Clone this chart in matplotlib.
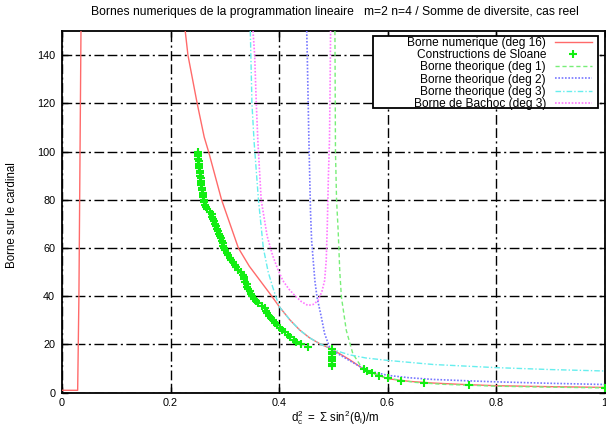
import matplotlib
matplotlib.use("Agg")
import matplotlib.pyplot as plt
from matplotlib.patches import Rectangle

plt.rcParams['font.family'] = ['Liberation Sans', 'DejaVu Sans']
plt.rcParams['mathtext.fontset'] = 'custom'
plt.rcParams['mathtext.rm'] = 'Liberation Sans'
plt.rcParams['mathtext.it'] = 'Liberation Sans'
plt.rcParams['lines.scale_dashes'] = False

# ---- data ----
red_x = [0.0, 0.0287, 0.031, 0.0348, None,
         0.227, 0.232, 0.249, 0.262, 0.270, 0.294, 0.325, 0.345, 0.365, 0.385,
         0.401, 0.420, 0.438, 0.456, 0.475, 0.4995, 0.530, 0.555, 0.600, 0.640,
         0.684, 0.740, 0.800, 0.900, 1.000]
red_y = [1.0, 1.0, 40.0, 150.0, None,
         150, 140, 120, 106, 100, 80, 60, 52.5, 46.5, 40.5,
         35.5, 30.2, 26.0, 22.8, 20.3, 17.8, 13.7, 9.9, 5.8, 4.7,
         4.0, 3.4, 2.9, 2.5, 2.2]

sloane_n = [2, 3, 4, 5, 6, 7, 8, 9, 10,
            11, 12, 13, 14, 15, 16, 17, 18, 19, 20,
            21, 22, 23, 24, 25, 26, 27, 28, 29, 30,
            31, 32, 33, 34, 35, 36, 37, 38, 39, 40,
            41, 42, 43, 44, 45, 46, 47, 48, 49, 50,
            51, 52, 53, 54, 55, 56, 57, 58, 59, 60,
            61, 62, 63, 64, 65, 66, 67, 68, 69, 70,
            71, 72, 73, 74, 75, 76, 77, 78, 79, 80,
            81, 82, 83, 84, 85, 86, 87, 88, 89, 90,
            91, 92, 93, 94, 95, 96, 97, 98, 99, 100]
sloane_d = [1.000, 0.750, 0.667, 0.625, 0.600, 0.584, 0.572, 0.563, 0.556,
            0.498, 0.498, 0.498, 0.498, 0.498, 0.498, 0.498, 0.498, 0.4535, 0.440,
            0.432, 0.427, 0.421, 0.416, 0.411, 0.406, 0.401, 0.396, 0.392, 0.389,
            0.386, 0.381, 0.378, 0.376, 0.374, 0.368, 0.362, 0.358, 0.354, 0.351,
            0.349, 0.346, 0.343, 0.341, 0.340, 0.338, 0.336, 0.335, 0.334, 0.329,
            0.325, 0.3215, 0.318, 0.315, 0.312, 0.309, 0.306, 0.304, 0.301, 0.299,
            0.297, 0.296, 0.295, 0.293, 0.291, 0.290, 0.288, 0.286, 0.284, 0.2816,
            0.280, 0.278, 0.277, 0.2755, 0.272, 0.268, 0.266, 0.264, 0.262, 0.261,
            0.260, 0.2595, 0.259, 0.258, 0.2575, 0.257, 0.2565, 0.256, 0.2555, 0.255,
            0.254, 0.2535, 0.253, 0.2525, 0.252, 0.2515, 0.251, 0.2505, 0.250, 0.2497]

deg1_x = [0.503, 0.504, 0.506, 0.509, 0.512, 0.515, 0.524, 0.536, 0.552, 0.570,
          0.600, 0.650, 0.700, 0.800, 0.900, 1.000]
deg1_y = [150, 100, 80, 67, 50, 39.6, 25.8, 16.2, 10.6, 8.2,
          6.0, 4.3, 3.5, 2.7, 2.3, 2.0]

deg2_x = [0.451, 0.452, 0.455, 0.458, 0.460, 0.466, 0.470, 0.478, 0.484, 0.493,
          0.500, 0.530, 0.561, 0.600, 0.640, 0.684, 0.740, 0.800, 0.900, 1.000]
deg2_y = [150, 140, 104.6, 75, 63.1, 46.5, 39.6, 31.3, 24.5, 18.9,
          17.3, 13.3, 9.3, 7.2, 6.2, 5.5, 5.0, 4.5, 3.9, 3.4]

deg3_x = [0.347, 0.348, 0.350, 0.354, 0.362, 0.371, 0.380, 0.388, 0.395, 0.401,
          0.420, 0.438, 0.456, 0.475, 0.4995, 0.530, 0.560, 0.600, 0.684, 0.800,
          0.900, 1.000]
deg3_y = [150, 140, 120, 104, 80, 60, 50, 44, 39.2, 35.5,
          30.2, 26.0, 22.8, 20.3, 17.8, 15.7, 14.4, 13.4, 11.7, 10.4,
          9.6, 9.0]

bachoc_x = [0.352, 0.355, 0.358, 0.361, 0.367, 0.378, 0.388, 0.398, 0.407, 0.418,
            0.429, 0.441, 0.453, 0.463, 0.472, 0.479, 0.484, 0.487, 0.489, 0.491,
            0.493, 0.494, 0.495]
bachoc_y = [150, 140, 120, 104, 80, 65, 57, 51, 46.5, 43,
            40.3, 37.8, 36.2, 36.6, 38.2, 42, 46.5, 55, 70, 90,
            105, 125, 150]

xticks = [0, 0.2, 0.4, 0.6, 0.8, 1]
xtick_labels = ['0', '0.2', '0.4', '0.6', '0.8', '1']
yticks = [0, 20, 40, 60, 80, 100, 120, 140]

title = "Bornes numeriques de la programmation lineaire   m=2 n=4 / Somme de diversite, cas reel"
labels = ['Borne numerique (deg 16)', 'Constructions de Sloane',
          'Borne theorique (deg 1)', 'Borne theorique (deg 2)',
          'Borne theorique (deg 3)', 'Borne de Bachoc (deg 3)']

# ---- figure ----
W, H = 606, 426
fig = plt.figure(figsize=(W / 100, H / 100), dpi=100)
L, R, T, B = 62.1, 604.5, 31.0, 392.7
ax = fig.add_axes([L / W, 1 - B / H, (R - L) / W, (B - T) / H])

def ax_x(px):
    return (px - L) / (R - L)

def ax_y(py):
    return (B - py) / (B - T)

def xs(v):
    return [float('nan') if a is None else a for a in v]

ax.plot(xs(red_x), xs(red_y), color='#ff6a6a', lw=1.0, label=labels[0], zorder=3)
ax.plot(sloane_d, sloane_n, ls='none', marker='+', ms=5.5, mew=1.5,
        color='#11ee11', label=labels[1], zorder=4, clip_on=False)
ax.plot(deg1_x, deg1_y, color='#77ee77', lw=1.0, ls=(0, (3, 2)), label=labels[2], zorder=3)
ax.plot(deg2_x, deg2_y, color='#7777ff', lw=1.2, ls=(0, (1.2, 1.2)), label=labels[3], zorder=3)
ax.plot(deg3_x, deg3_y, color='#66eeee', lw=1.0, ls=(0, (4, 1.5, 1, 1.5)), label=labels[4], zorder=3)
ax.plot(bachoc_x, bachoc_y, color='#ff77ff', lw=1.2, ls=(0, (1.2, 1.2)), label=labels[5], zorder=3)

ax.set_xlim(0, 1)
ax.set_ylim(0, 150)
ax.set_xticks(xticks)
ax.set_xticklabels(xtick_labels)
ax.set_yticks(yticks)
ax.tick_params(direction='in', length=4, width=1.0, top=True, right=True,
               labelsize=7.8, colors='black')
ax.tick_params(axis='y', pad=5)
ax.tick_params(axis='x', pad=4)
ax.grid(True, color='black', lw=1.0, ls=(0, (7, 2.5, 7, 2.5, 1.5, 2.5)), zorder=1)
ax.set_axisbelow(True)
for s in ax.spines.values():
    s.set_linewidth(1.3)
    s.set_color('black')

# legend box (gnuplot style: wide frame, right-aligned text, sample on the right)
box = Rectangle((ax_x(373), ax_y(108)), ax_x(598) - ax_x(373), ax_y(36) - ax_y(108),
                transform=ax.transAxes, facecolor='white', edgecolor='black',
                lw=1.3, zorder=9, clip_on=False)
ax.add_patch(box)
leg = ax.legend(loc='upper right', bbox_to_anchor=(ax_x(592), ax_y(36.8)),
                borderaxespad=0, markerfirst=False, frameon=False,
                fontsize=8.6, labelspacing=0.02, handlelength=3.1,
                handletextpad=0.75, borderpad=0)
leg.set_zorder(10)

fig.text(334.5 / W, 1 - 12 / H, title, ha='center', va='center', fontsize=8.7)
fig.text(12 / W, 1 - 215 / H, 'Borne sur le cardinal', rotation=90,
         ha='center', va='center', fontsize=8.3)
fig.text(335 / W, 1 - 418 / H, r'$\mathrm{d_c^2\ =\ \Sigma\ sin^2(\theta_i)/m}$',
         ha='center', va='center', fontsize=8.3)

fig.savefig('out.png', dpi=100)
